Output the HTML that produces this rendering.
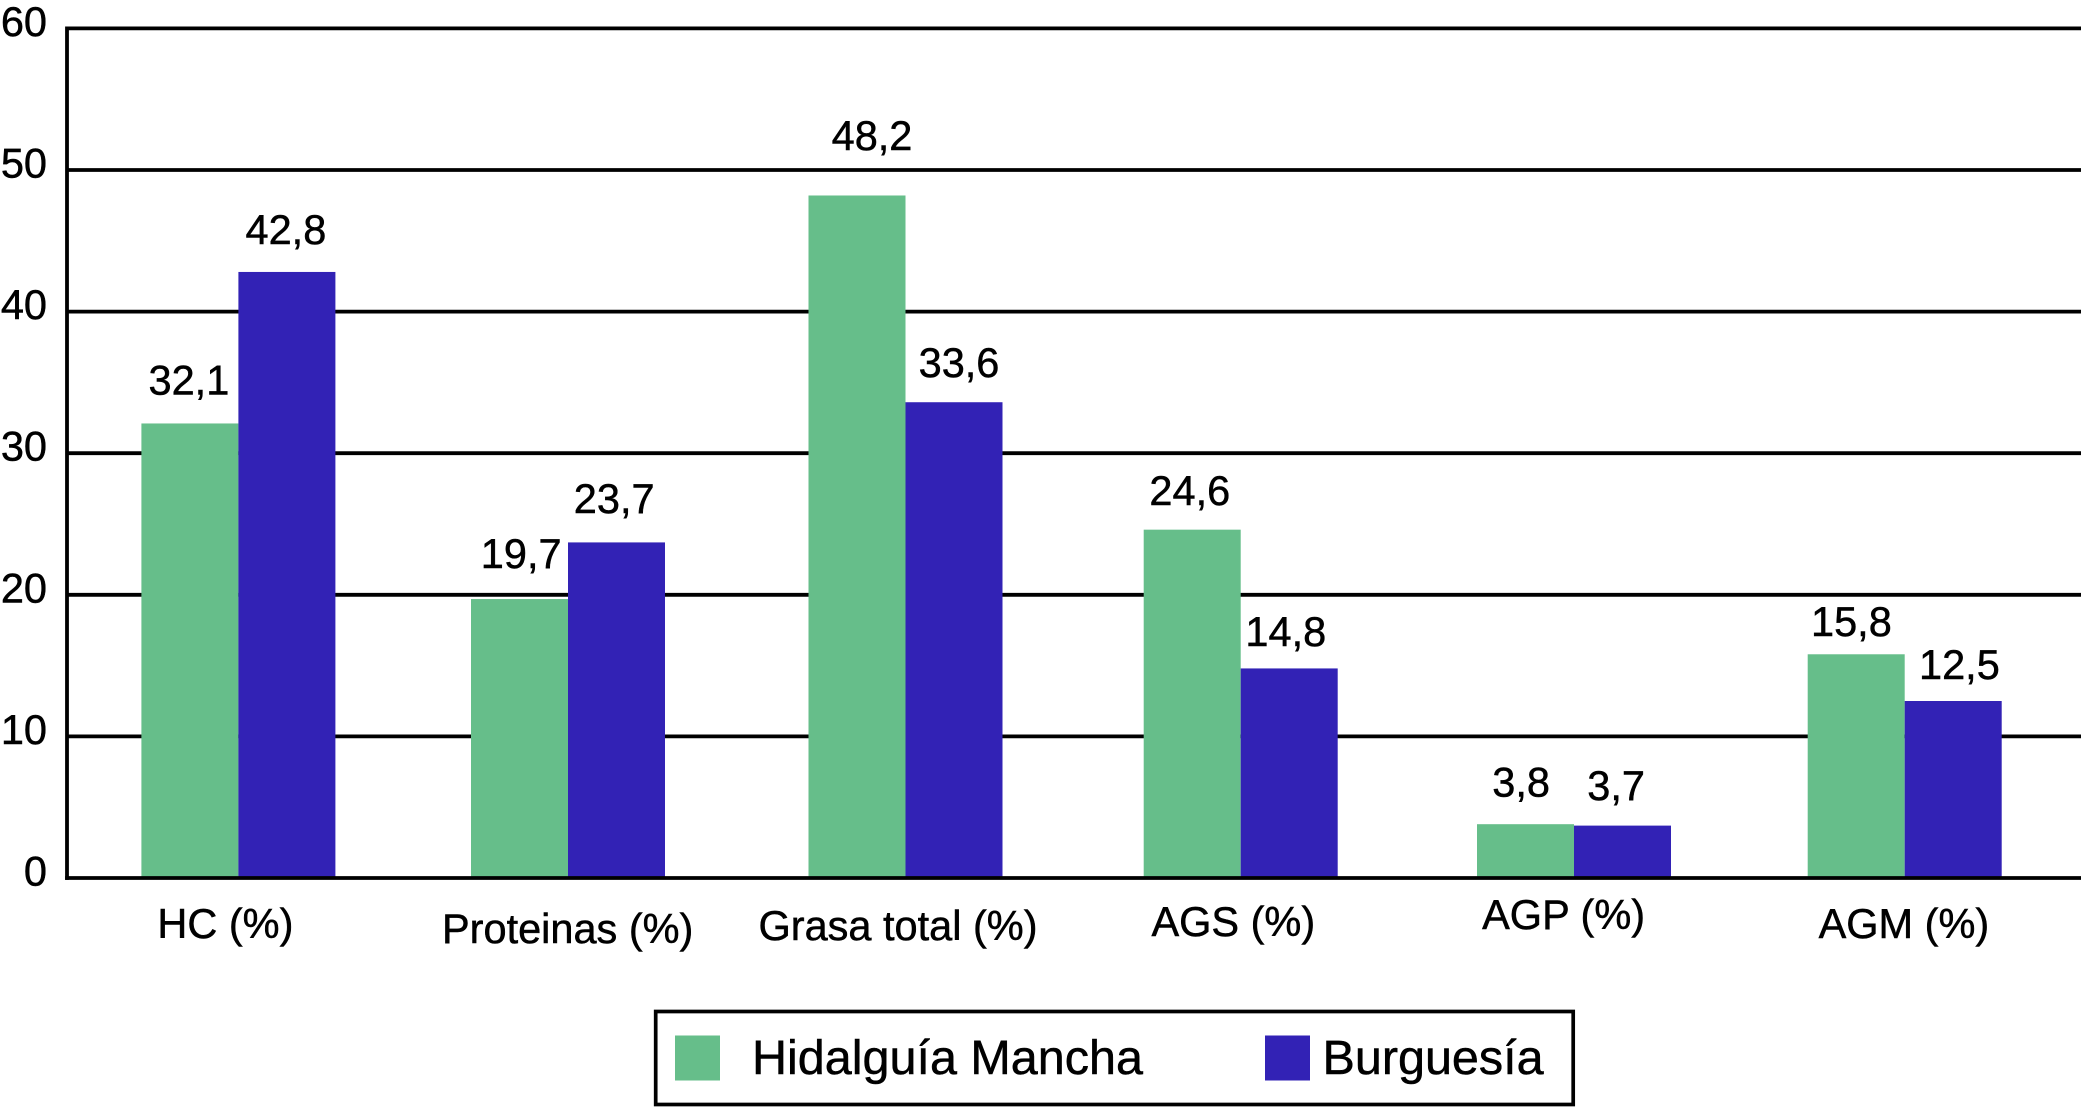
<!DOCTYPE html>
<html lang="es">
<head>
<meta charset="utf-8">
<title>Hidalguía Mancha vs Burguesía</title>
<style>
  html, body { margin: 0; padding: 0; background: #fff; }
  svg { display: block; }
  text { font-family: "Liberation Sans", Arial, sans-serif; fill: #000; stroke: #000; stroke-width: 0.5px; }
</style>
</head>
<body>
<svg id="chart" xmlns="http://www.w3.org/2000/svg" width="2081" height="1107" viewBox="0 0 2081 1107">
  <g id="grid"></g>
  <g id="bars"></g>
  <g id="axes"></g>
  <g id="value-labels"></g>
  <g id="y-ticks"></g>
  <g id="x-ticks"></g>
  <g>
    <rect x="655.7" y="1011.5" width="917.5" height="93" fill="#fff" stroke="#000" stroke-width="3.7"/>
    <rect x="675" y="1035.5" width="45" height="45" fill="#66BE8A"/>
    <text x="752" y="1074" font-size="48.5">Hidalguía Mancha</text>
    <rect x="1265" y="1035.5" width="45" height="45" fill="#3222B5"/>
    <text x="1322.5" y="1074" font-size="48.5">Burguesía</text>
  </g>
</svg>
<script>
const categories = ["HC (%)", "Proteinas (%)", "Grasa total (%)", "AGS (%)", "AGP (%)", "AGM (%)"];
const hidalguiaValues = [32.1, 19.7, 48.2, 24.6, 3.8, 15.8];
const burguesiaValues = [42.8, 23.7, 33.6, 14.8, 3.7, 12.5];
const yTicks = [0, 10, 20, 30, 40, 50, 60];

const SVG_NS = "http://www.w3.org/2000/svg";
const FONT = 41.5;
const BAR_W = 97;
const GREEN = "#66BE8A";
const BLUE = "#3222B5";

// Layout-only adjustments: the source figure's groups are not evenly spaced
const groupNudge = [0, -3.7, 0.5, 2.4, 2.4, -0.2];

// Axis functions
const yScale = function (v) { return 878 - v * (878 - 28.4) / 60; };
const xCenter = function (i) { return 238.4 + i * 333.3 + groupNudge[i]; };

// Hand-placement of labels relative to their marks (layout only)
const greenLabelDx = [-1, 1.7, 15, -2.4, -4.4, -4.8];
const greenLabelGap = [29, 31, 45.5, 24.7, 27.7, 18.3];
const blueLabelDx = [-1, -2.3, 5, -3.4, -6.4, 6.2];
const blueLabelGap = [28, 29.4, 25.2, 22.4, 25.6, 22];
const catLabelDx = [-13, -0.3, -7.5, -7.4, -10.4, -0.8];
const catLabelDy = [60, 65, 62, 58, 51, 60];

const make = function (tag) { return document.createElementNS(SVG_NS, tag); };
const fmt = function (v) { return String(v).replace(".", ","); };

const gridG = document.getElementById("grid");
const barsG = document.getElementById("bars");
const axesG = document.getElementById("axes");
const valuesG = document.getElementById("value-labels");
const yTicksG = document.getElementById("y-ticks");
const xTicksG = document.getElementById("x-ticks");

yTicks.forEach(function (t) {
  if (t !== 0) {
    const line = make("line");
    
    
    line.setAttribute("x1", 67);
    line.setAttribute("x2", 2081);
    line.setAttribute("y1", yScale(t));
    line.setAttribute("y2", yScale(t));
    line.setAttribute("stroke", "#000");
    line.setAttribute("stroke-width", 3.8);
    gridG.appendChild(line);
  }
  const label = make("text");
  
  
  label.setAttribute("x", 47);
  label.setAttribute("y", yScale(t) + 7.5);
  label.setAttribute("text-anchor", "end");
  label.setAttribute("font-size", FONT);
  label.textContent = String(t);
  yTicksG.appendChild(label);
});

function drawBar(value, x, fill, name) {
  const r = make("rect");
  
  
  r.setAttribute("x", x);
  r.setAttribute("y", yScale(value));
  r.setAttribute("width", BAR_W);
  r.setAttribute("height", yScale(0) - yScale(value));
  r.setAttribute("fill", fill);
  barsG.appendChild(r);
}

function drawValue(value, cx, gap, name) {
  const t = make("text");
  
  
  t.setAttribute("x", cx);
  t.setAttribute("y", yScale(value) - gap);
  t.setAttribute("text-anchor", "middle");
  t.setAttribute("font-size", FONT);
  t.textContent = fmt(value);
  valuesG.appendChild(t);
}

categories.forEach(function (cat, i) {
  const c = xCenter(i);
  drawBar(hidalguiaValues[i], c - BAR_W, GREEN, 'bar-hidalguia-mancha-' + i);
  drawBar(burguesiaValues[i], c, BLUE, 'bar-burguesia-' + i);
  drawValue(hidalguiaValues[i], c - BAR_W / 2 + greenLabelDx[i], greenLabelGap[i], 'value-label-hidalguia-mancha-' + i);
  drawValue(burguesiaValues[i], c + BAR_W / 2 + blueLabelDx[i], blueLabelGap[i], 'value-label-burguesia-' + i);

  const label = make("text");
  
  
  label.setAttribute("x", c + catLabelDx[i]);
  label.setAttribute("y", yScale(0) + catLabelDy[i]);
  label.setAttribute("text-anchor", "middle");
  label.setAttribute("font-size", FONT);
  label.textContent = cat;
  xTicksG.appendChild(label);
});

const yAxis = make("line");


yAxis.setAttribute("x1", 67);
yAxis.setAttribute("x2", 67);
yAxis.setAttribute("y1", yScale(60) - 1.9);
yAxis.setAttribute("y2", yScale(0) + 1.9);
yAxis.setAttribute("stroke", "#000");
yAxis.setAttribute("stroke-width", 3.8);
axesG.appendChild(yAxis);

const xAxis = make("line");


xAxis.setAttribute("x1", 65.1);
xAxis.setAttribute("x2", 2081);
xAxis.setAttribute("y1", yScale(0));
xAxis.setAttribute("y2", yScale(0));
xAxis.setAttribute("stroke", "#000");
xAxis.setAttribute("stroke-width", 3.8);
axesG.appendChild(xAxis);
</script>
</body>
</html>
